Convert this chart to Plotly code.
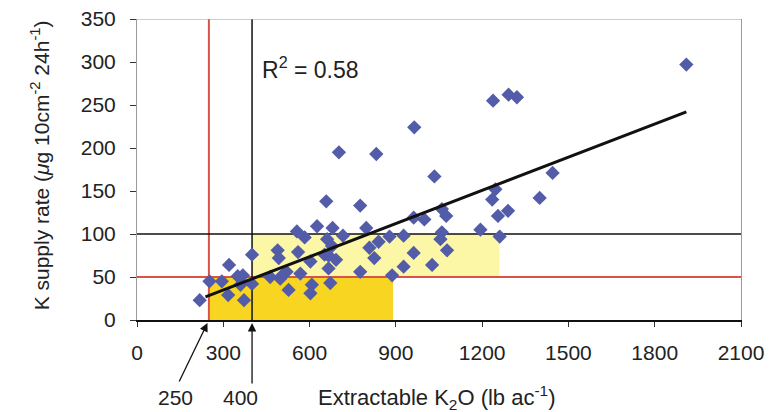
import plotly.graph_objects as go

# ---- data ----
k2o = [218, 252, 295, 320, 317, 350, 368, 360, 372, 400, 400, 463, 489, 493, 498,
       505, 520, 527, 556, 560, 568, 583, 603, 608, 603, 626, 658, 661, 652, 666,
       666, 672, 678, 680, 692, 702, 716, 776, 776, 797, 808, 825, 832, 840, 878,
       887, 927, 927, 962, 964, 962, 999, 1026, 1034, 1060, 1075, 1060, 1055, 1078,
       1194, 1238, 1246, 1235, 1255, 1261, 1290, 1292, 1321, 1400, 1445, 1910]
k_supply = [23, 45, 45, 64, 29, 51, 52, 41, 23, 76, 42, 50, 81, 72, 48,
            52, 56, 35, 103, 79, 54, 96, 68, 41, 31, 109, 138, 94, 76, 75,
            60, 43, 86, 107, 70, 195, 98, 133, 56, 107, 84, 72, 193, 91, 97,
            52, 98, 62, 78, 224, 119, 117, 64, 167, 129, 121, 102, 94, 81,
            105, 255, 152, 140, 121, 97, 127, 262, 259, 142, 171, 297]

trend_x = [238, 1910]
trend_y = [27, 242]
r_squared = 0.58

x_ticks = [0, 300, 600, 900, 1200, 1500, 1800, 2100]
y_ticks = [0, 50, 100, 150, 200, 250, 300, 350]
x_max = 2100
y_max = 350

crit_k2o_low = 250      # red vertical
crit_k2o_high = 400     # black vertical
crit_supply_low = 50    # red horizontal
crit_supply_high = 100  # black horizontal
light_box_x = [400, 1260]
light_box_y = [50, 100]
gold_box_x = [250, 890]
gold_box_y = [0, 50]

FONT = "Liberation Sans, Arial, sans-serif"
TXT = "#222222"
FS = 21

fig = go.Figure()

fig.add_trace(go.Scatter(
    x=k2o, y=k_supply, mode="markers",
    marker=dict(symbol="diamond", size=11, color="#535CA8",
                line=dict(width=0)),
    showlegend=False, cliponaxis=False))

fig.add_trace(go.Scatter(
    x=trend_x, y=trend_y, mode="lines",
    line=dict(color="#111111", width=3), showlegend=False))

shapes = [
    dict(type="rect", xref="x", yref="y", x0=light_box_x[0], x1=light_box_x[1],
         y0=light_box_y[0], y1=light_box_y[1], fillcolor="#FBF7A6",
         line=dict(width=0), layer="below"),
    dict(type="rect", xref="x", yref="y", x0=gold_box_x[0], x1=gold_box_x[1],
         y0=gold_box_y[0], y1=gold_box_y[1], fillcolor="#F8D520",
         line=dict(width=0), layer="below"),
    dict(type="line", xref="x", yref="y", x0=0, x1=x_max,
         y0=crit_supply_low, y1=crit_supply_low,
         line=dict(color="#D9534A", width=2), layer="below"),
    dict(type="line", xref="x", yref="y", x0=crit_k2o_low, x1=crit_k2o_low,
         y0=0, y1=y_max, line=dict(color="#D9534A", width=2), layer="below"),
    dict(type="line", xref="x", yref="y", x0=0, x1=x_max,
         y0=crit_supply_high, y1=crit_supply_high,
         line=dict(color="#111111", width=1.5), layer="below"),
    dict(type="line", xref="x", yref="y", x0=crit_k2o_high, x1=crit_k2o_high,
         y0=0, y1=y_max, line=dict(color="#111111", width=1.5), layer="below"),
    dict(type="line", xref="x", yref="y", x0=0, x1=x_max, y0=y_max, y1=y_max,
         line=dict(color="#9a9a9a", width=1)),
]

below_y = -0.256   # paper y of the labels under the axis

annotations = [
    dict(text=f"R<sup>2</sup> = {r_squared:.2f}",
         x=429, y=293, xref="x", yref="y", xanchor="left", yanchor="middle",
         showarrow=False, font=dict(family=FONT, size=23, color=TXT)),
    # arrows pointing at the critical K2O values
    dict(text="", x=crit_k2o_high, y=-0.01, xref="x", yref="paper",
         ax=0, ay=62, showarrow=True, arrowhead=2, arrowsize=1.3,
         arrowwidth=1.3, arrowcolor="#111111"),
    dict(text="", x=crit_k2o_low - 5, y=-0.01, xref="x", yref="paper",
         ax=-29, ay=60, showarrow=True, arrowhead=2, arrowsize=1.3,
         arrowwidth=1.3, arrowcolor="#111111"),
    dict(text=str(crit_k2o_low), x=133, y=below_y, xref="x", yref="paper",
         xanchor="center", yanchor="middle",
         showarrow=False, font=dict(family=FONT, size=FS, color=TXT)),
    dict(text=str(crit_k2o_high), x=359, y=below_y, xref="x", yref="paper",
         xanchor="center", yanchor="middle",
         showarrow=False, font=dict(family=FONT, size=FS, color=TXT)),
    dict(text="Extractable K<sub>2</sub>O (lb ac<sup>-1</sup>)",
         x=1040, y=below_y, xref="x", yref="paper", showarrow=False,
         xanchor="center", yanchor="middle",
         font=dict(family=FONT, size=22, color=TXT)),
    dict(text="K supply rate (<i>μ</i>g 10cm<sup>-2</sup> 24h<sup>-1</sup>)",
         x=-0.16, y=0.515, xref="paper", yref="paper", textangle=-90,
         xanchor="center", yanchor="middle",
         showarrow=False, font=dict(family=FONT, size=FS, color=TXT)),
]

fig.update_layout(
    width=769, height=412,
    margin=dict(l=137, r=28, t=19, b=92, autoexpand=False),
    paper_bgcolor="white", plot_bgcolor="white",
    font=dict(family=FONT, size=FS, color=TXT),
    shapes=shapes, annotations=annotations,
    xaxis=dict(range=[0, x_max], tickvals=x_ticks, ticktext=[str(v) for v in x_ticks],
               showgrid=False, zeroline=False, showline=True, linecolor="#111111",
               linewidth=1.5, ticks="outside", ticklen=5, tickcolor="#333333",
               ticklabelstandoff=8, ticklabeloverflow="allow", automargin=False,
               tickfont=dict(family=FONT, size=FS, color=TXT)),
    yaxis=dict(range=[0, y_max], tickvals=y_ticks, ticktext=[str(v) for v in y_ticks],
               showgrid=False, zeroline=False, showline=True, linecolor="#9a9a9a",
               linewidth=1, mirror=True, ticks="outside", ticklen=6,
               tickcolor="#333333", ticklabelstandoff=10, ticklabeloverflow="allow",
               automargin=False, tickfont=dict(family=FONT, size=FS, color=TXT)),
)

# remove the page's default body margin so the figure fills the window exactly
fig.write_html("out.html",
               config={"displayModeBar": False},
               post_script="document.body.style.margin='0';"
                           "document.body.style.overflow='hidden';")
